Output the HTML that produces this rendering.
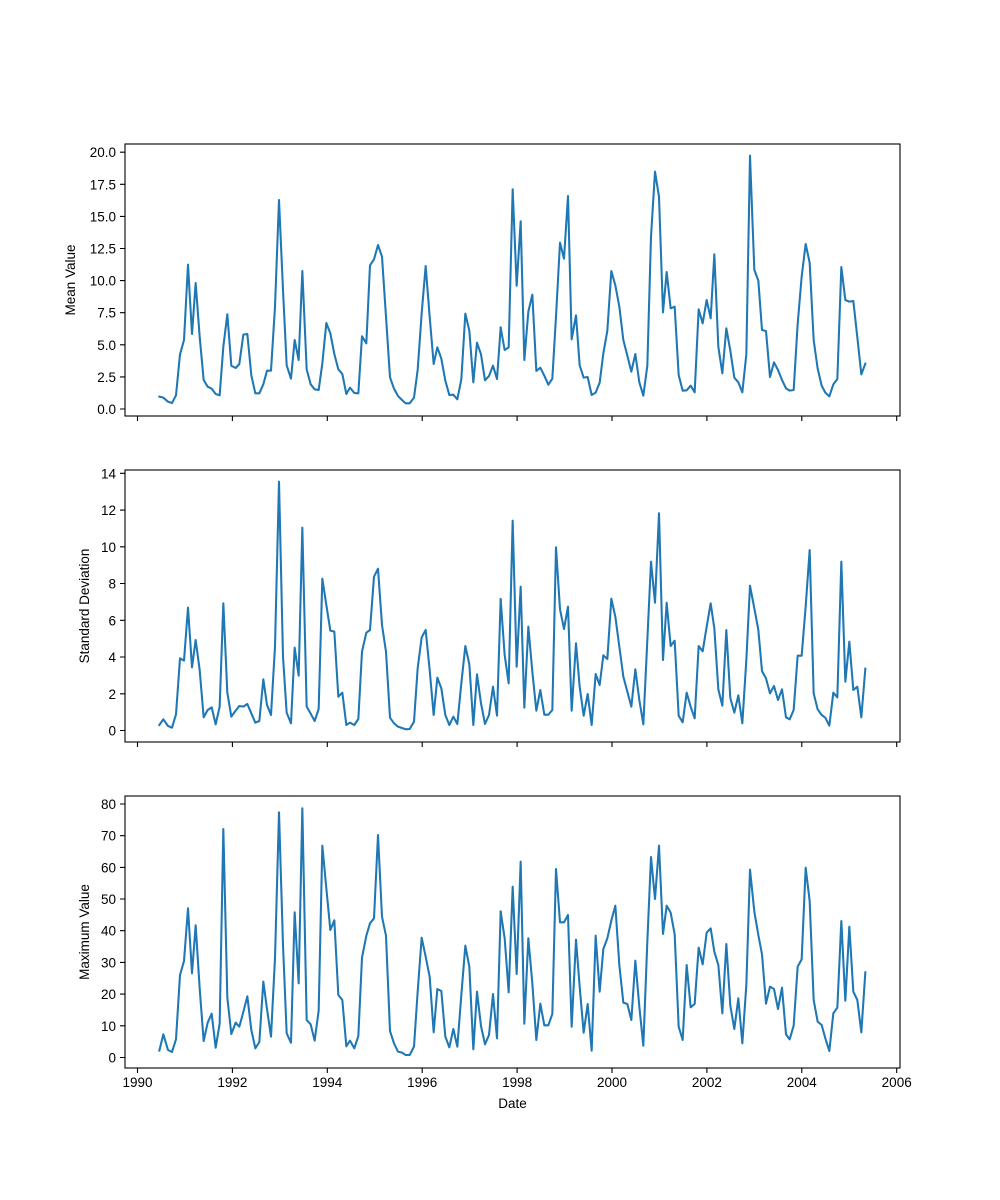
<!DOCTYPE html>
<html><head><meta charset="utf-8"><style>body{margin:0;background:#fff}svg{display:block}text{font-family:"Liberation Sans","DejaVu Sans",sans-serif;font-size:13.5px;fill:#000}</style></head>
<body>
<svg width="1000" height="1200" viewBox="0 0 1000 1200" xmlns="http://www.w3.org/2000/svg">
<rect width="1000" height="1200" fill="#fff"/>
<g fill="none" stroke="#1f77b4" stroke-width="6.2" stroke-linejoin="round" stroke-linecap="square">
<!-- panel 1 -->
<g transform="translate(140,140) scale(0.33333)">
<polyline points="58,770 70,773 84,785 96,789 108,766 120,643 132,600 144,374 156,582 167,429 179,590 191,720 203,740 215,746 227,762 239,766 250,620 262,523 274,677 287,684 298,672 310,584 322,582 334,706 346,760 358,760 370,733 381,692 393,692 405,500 417,180 429,450 440,676 453,716 464,600 476,660 487,393 500,688 512,733 524,748 536,750 547,670 559,549 571,580 583,642 595,688 607,702 619,762 630,743 643,759 655,760 666,589 679,610 690,376 702,358 714,315 726,350 738,530 750,712 762,746 774,768 786,780 797,790 809,790 822,773 833,690 845,520 857,378 869,530 881,672 892,622 904,656 916,722 928,765 940,764 952,778 964,718 976,521 988,572 1000,727 1011,608 1023,643 1035,721 1047,708 1059,677 1071,717 1082,563"/>
</g>
<g transform="translate(500,140) scale(0.33333)">
<polyline points="2,563 14,630 26,622 38,148 50,437 62,244 73,660 85,515 97,464 109,693 121,683 133,707 145,734 157,716 168,530 180,308 192,356 204,168 215,598 228,526 239,676 251,713 263,711 275,765 287,758 299,728 310,640 322,572 334,393 346,436 358,500 370,600 382,647 394,695 406,642 418,727 430,767 442,677 453,290 465,95 477,170 489,517 500,396 512,505 524,500 536,705 548,752 560,751 572,737 584,757 596,508 608,550 620,480 632,535 643,343 655,620 667,700 679,565 691,632 703,713 715,727 727,757 739,643 750,47 763,390 775,422 786,570 798,573 810,711 822,667 834,690 846,720 858,745 869,752 881,750 893,552 905,410 917,312 929,368 941,600 953,686 965,737 976,758 988,769 1000,733 1012,717 1024,381 1036,480 1048,485 1060,483 1072,592 1084,703 1096,671"/>
</g>
<!-- panel 2 -->
<g transform="translate(140,470) scale(0.33333)">
<polyline points="58,765 70,748 84,768 96,773 108,733 120,565 132,572 144,413 156,592 167,510 179,600 191,742 203,720 215,712 227,763 239,710 250,400 262,668 274,740 287,722 298,708 310,710 322,702 334,730 346,758 358,753 370,628 381,705 393,735 405,530 417,35 429,560 440,728 453,760 464,533 476,617 487,173 500,710 512,731 524,753 536,717 547,326 559,405 571,482 583,485 595,680 607,668 619,765 630,758 643,765 655,747 666,545 679,488 690,480 702,320 714,296 726,465 738,545 750,743 762,760 774,770 786,774 797,778 809,777 822,755 833,595 845,502 857,480 869,600 881,735 892,623 904,655 916,735 928,765 940,740 952,762 964,640 976,528 988,583 1000,765 1011,613 1023,700 1035,762 1047,735 1059,650 1071,737 1082,388"/>
</g>
<g transform="translate(500,470) scale(0.33333)">
<polyline points="2,388 14,555 26,640 38,152 50,590 62,350 73,713 85,470 97,605 109,722 121,660 133,734 145,734 157,720 168,232 180,418 192,477 204,410 215,722 228,520 239,650 251,737 263,672 275,765 287,612 299,645 310,556 322,567 334,386 346,440 358,530 370,620 382,665 394,710 406,598 418,690 430,763 442,510 453,275 465,398 477,130 489,570 500,398 512,528 524,512 536,737 548,757 560,668 572,710 584,745 596,528 608,544 620,470 632,400 643,475 655,658 667,707 679,480 691,684 703,728 715,676 727,760 739,570 750,347 763,415 775,480 786,603 798,625 810,670 822,648 834,690 846,658 858,742 869,748 881,720 893,557 905,557 917,410 929,240 941,670 953,718 965,735 976,743 988,767 1000,668 1012,682 1024,275 1036,635 1048,515 1060,660 1072,650 1084,742 1096,596"/>
</g>
<!-- panel 3 -->
<g transform="translate(140,795) scale(0.33333)">
<polyline points="58,767 70,718 84,765 96,771 108,733 120,540 132,498 144,340 156,535 167,391 179,580 191,738 203,683 215,656 227,758 239,686 250,102 262,608 274,717 287,683 298,695 310,651 322,604 334,705 346,760 358,741 370,560 381,642 393,725 405,490 417,52 429,450 440,715 453,743 464,352 476,565 487,40 500,675 512,688 524,737 536,647 547,152 559,280 571,405 583,376 595,600 607,615 619,754 630,737 643,760 655,723 666,488 679,422 690,385 702,370 714,120 726,365 738,422 750,708 762,745 774,770 786,773 797,780 809,780 822,755 833,590 845,428 857,485 869,545 881,712 892,582 904,588 916,725 928,757 940,702 952,755 964,600 976,452 988,515 1000,763 1011,590 1023,693 1035,748 1047,720 1059,597 1071,730 1082,350"/>
</g>
<g transform="translate(500,795) scale(0.33333)">
<polyline points="2,350 14,430 26,592 38,275 50,537 62,200 73,686 85,430 97,565 109,735 121,626 133,691 145,691 157,657 168,222 180,382 192,382 204,360 215,695 228,434 239,575 251,713 263,627 275,767 287,422 299,590 310,462 322,430 334,377 346,332 358,510 370,623 382,627 394,675 406,497 418,635 430,752 442,440 453,186 465,312 477,152 489,417 500,332 512,353 524,418 536,695 548,735 560,510 572,637 584,627 596,458 608,508 620,413 632,400 643,470 655,510 667,655 679,447 691,632 703,702 715,610 727,745 739,570 750,224 763,350 775,420 786,478 798,626 810,575 822,582 834,642 846,578 858,718 869,733 881,692 893,515 905,493 917,218 929,318 941,615 953,680 965,690 976,730 988,768 1000,655 1012,638 1024,378 1036,617 1048,395 1060,590 1072,615 1084,712 1096,532"/>
</g>
</g>
<!-- axes frames -->
<g fill="none" stroke="#000" stroke-width="1.1">
<rect x="125" y="144" width="775" height="272"/>
<rect x="125" y="470" width="775" height="272"/>
<rect x="125" y="796" width="775" height="272"/>
<!-- x ticks -->
<path d="M137.5,416v5M232.4,416v5M327.3,416v5M422.2,416v5M517.1,416v5M612,416v5M706.9,416v5M801.8,416v5M896.7,416v5
M137.5,742v5M232.4,742v5M327.3,742v5M422.2,742v5M517.1,742v5M612,742v5M706.9,742v5M801.8,742v5M896.7,742v5
M137.5,1068v5M232.4,1068v5M327.3,1068v5M422.2,1068v5M517.1,1068v5M612,1068v5M706.9,1068v5M801.8,1068v5M896.7,1068v5"/>
<!-- y ticks panel1 -->
<path d="M125,409h-5M125,376.9h-5M125,344.8h-5M125,312.7h-5M125,280.6h-5M125,248.5h-5M125,216.4h-5M125,184.3h-5M125,152.2h-5"/>
<path d="M125,730.5h-5M125,693.8h-5M125,657h-5M125,620.3h-5M125,583.5h-5M125,546.8h-5M125,510.1h-5M125,473.3h-5"/>
<path d="M125,1057.5h-5M125,1025.8h-5M125,994.1h-5M125,962.4h-5M125,930.7h-5M125,899h-5M125,867.4h-5M125,835.7h-5M125,804h-5"/>
</g>
<g text-anchor="end">
<text x="116" y="414">0.0</text><text x="116" y="381.9">2.5</text><text x="116" y="349.8">5.0</text><text x="116" y="317.7">7.5</text><text x="116" y="285.6">10.0</text><text x="116" y="253.5">12.5</text><text x="116" y="221.4">15.0</text><text x="116" y="189.3">17.5</text><text x="116" y="157.2">20.0</text>
<text x="116" y="735.5">0</text><text x="116" y="698.8">2</text><text x="116" y="662">4</text><text x="116" y="625.3">6</text><text x="116" y="588.5">8</text><text x="116" y="551.8">10</text><text x="116" y="515.1">12</text><text x="116" y="478.3">14</text>
<text x="116" y="1062.5">0</text><text x="116" y="1030.8">10</text><text x="116" y="999.1">20</text><text x="116" y="967.4">30</text><text x="116" y="935.7">40</text><text x="116" y="904">50</text><text x="116" y="872.4">60</text><text x="116" y="840.7">70</text><text x="116" y="809">80</text>
</g>
<g text-anchor="middle">
<text x="137.5" y="1087">1990</text><text x="232.4" y="1087">1992</text><text x="327.3" y="1087">1994</text><text x="422.2" y="1087">1996</text><text x="517.1" y="1087">1998</text><text x="612" y="1087">2000</text><text x="706.9" y="1087">2002</text><text x="801.8" y="1087">2004</text><text x="896.7" y="1087">2006</text>
<text x="512.5" y="1108">Date</text>
<text transform="translate(75,280) rotate(-90)">Mean Value</text>
<text transform="translate(89,606) rotate(-90)">Standard Deviation</text>
<text transform="translate(89,932) rotate(-90)">Maximum Value</text>
</g>
</svg>
</body></html>
